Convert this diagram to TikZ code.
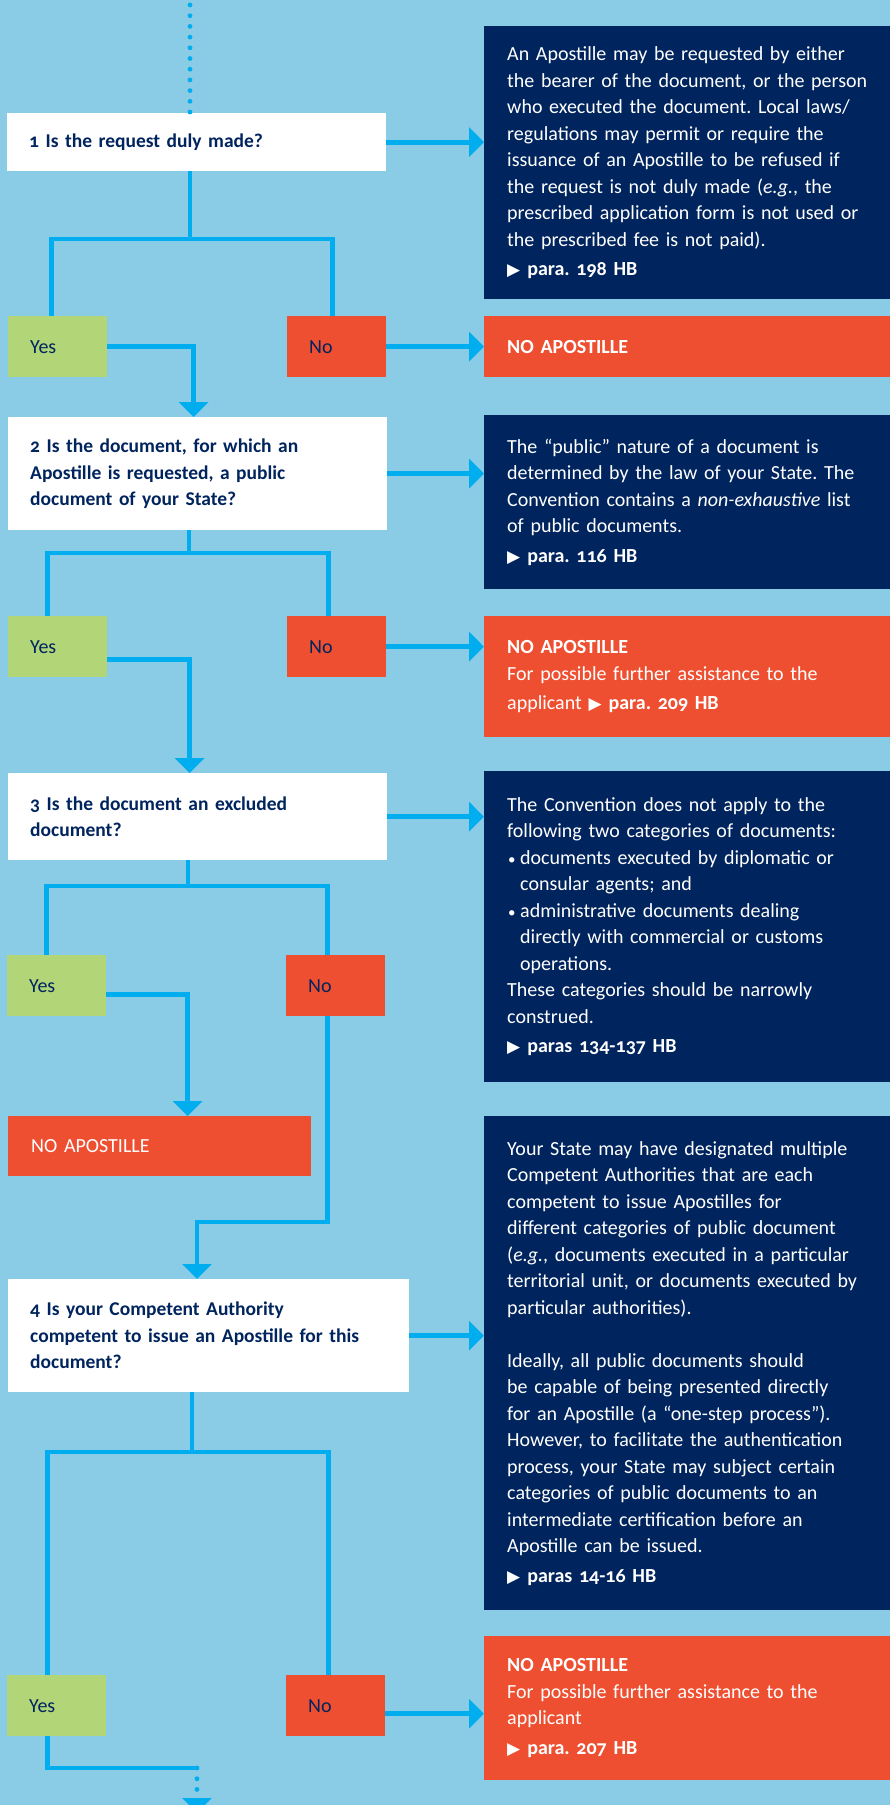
\documentclass[tikz,border=0pt]{standalone}
\usepackage{fontspec}
\setmainfont{Carlito}[Numbers=OldStyle]
\newfontfamily\symfont{DejaVu Sans}
\usetikzlibrary{arrows.meta}
\definecolor{skyback}{HTML}{8ACBE5}
\definecolor{flowcyan}{HTML}{00AEEF}
\definecolor{navyblue}{HTML}{00245D}
\definecolor{stopred}{HTML}{EF4F31}
\definecolor{yesgreen}{HTML}{B1D577}
\newcommand\paramark{{\symfont\fontsize{17pt}{17pt}\selectfont\char"25B6}\hspace{7pt}}
\newcommand\listdot{\makebox[13pt][l]{\hspace{1pt}\fontsize{15pt}{15pt}\selectfont•}}
\frenchspacing
\begin{document}
\begin{tikzpicture}[x=1pt,y=-1pt,line cap=butt,line join=miter,
	txt/.style={anchor=north west,inner xsep=22pt,inner ysep=0pt,align=left,font=\fontsize{20pt}{26.5pt}\selectfont},
	questionbox/.style={txt,fill=white,text=navyblue,font=\fontsize{19.5pt}{26.5pt}\selectfont\bfseries},
	yesbox/.style={txt,fill=yesgreen,text=navyblue,text width=55pt,minimum height=61pt},
	nobox/.style={txt,fill=stopred,text=navyblue,text width=55pt,minimum height=61pt},
	infobox/.style={txt,fill=navyblue,text=white,inner xsep=23pt,text width=400pt},
	stopbox/.style={txt,fill=stopred,text=white,inner xsep=23pt,text width=400pt},
	flow/.style={draw=flowcyan,line width=4.8pt},
	flowarrow/.style={flow,-{Triangle[length=15pt,width=29pt]}},
	dotline/.style={draw=flowcyan,line width=4.8pt,line cap=round,dash pattern=on 0pt off 10.7pt}]
	\useasboundingbox (0,0) rectangle (890,1805);
	\clip (0,0) rectangle (890,1805);
	\fill[skyback] (0,0) rectangle (890,1805);
	% questions
	\node[questionbox,text width=335pt,minimum height=58pt] (q1) at (7,113) {1 Is the request duly made?};
	\node[questionbox,text width=335pt,minimum height=113pt] (q2) at (8,417) {2 Is the document, for which an\\Apostille is requested, a public\\document of your State?};
	\node[questionbox,text width=335pt,minimum height=87pt] (q3) at (8,773) {3 Is the document an excluded\\document?};
	\node[questionbox,text width=357pt,minimum height=113pt] (q4) at (8,1279) {4 Is your Competent Authority\\competent to issue an Apostille for this\\document?};
	% answers
	\node[yesbox] (y1) at (8,316) {Yes};
	\node[nobox] (n1) at (287,316) {No};
	\node[yesbox] (y2) at (8,616) {Yes};
	\node[nobox] (n2) at (287,616) {No};
	\node[yesbox] (y3) at (7,955) {Yes};
	\node[nobox] (n3) at (286,955) {No};
	\node[yesbox] (y4) at (7,1675) {Yes};
	\node[nobox] (n4) at (286,1675) {No};
	% notes (they run on to the right edge of the page)
	\node[infobox,minimum height=273pt] (i1) at (484,26) {An Apostille may be requested by either\\the bearer of the document, or the person\\who executed the document. Local laws/\\regulations may permit or require the\\issuance of an Apostille to be refused if\\the request is not duly made (\textit{e.g.}, the\\prescribed application form is not used or\\the prescribed fee is not paid).\\[3pt]\paramark\textbf{para. 198 HB}};
	\node[infobox,minimum height=174pt] (i2) at (484,415) {The “public” nature of a document is\\determined by the law of your State. The\\Convention contains a \textit{non-exhaustive} list\\of public documents.\\[3pt]\paramark\textbf{para. 116 HB}};
	\node[infobox,minimum height=311pt] (i3) at (484,771) {The Convention does not apply to the\\following two categories of documents:\\\listdot documents executed by diplomatic or\\\hspace*{13pt}consular agents; and\\\listdot administrative documents dealing\\\hspace*{13pt}directly with commercial or customs\\\hspace*{13pt}operations.\\These categories should be narrowly\\construed.\\[3pt]\paramark\textbf{paras 134-137 HB}};
	\node[infobox,minimum height=494pt] (i4) at (484,1116) {Your State may have designated multiple\\Competent Authorities that are each\\competent to issue Apostilles for\\different categories of public document\\(\textit{e.g.}, documents executed in a particular\\territorial unit, or documents executed by\\particular authorities).\\[26.5pt]Ideally, all public documents should\\be capable of being presented directly\\for an Apostille (a “one-step process”).\\However, to facilitate the authentication\\process, your State may subject certain\\categories of public documents to an\\intermediate certification before an\\Apostille can be issued.\\[3pt]\paramark\textbf{paras 14-16 HB}};
	% no apostille
	\node[stopbox,minimum height=61pt] (s1) at (484,316) {\textbf{NO APOSTILLE}};
	\node[stopbox,minimum height=121pt] (s2) at (484,616) {\textbf{NO APOSTILLE}\\For possible further assistance to the\\[3pt]applicant \paramark\textbf{para. 209 HB}};
	\node[stopbox,text width=257pt,minimum height=60pt] (s3) at (8,1116) {NO APOSTILLE};
	\node[stopbox,minimum height=144pt] (s4) at (484,1636) {\textbf{NO APOSTILLE}\\For possible further assistance to the\\applicant\\[3pt]\paramark\textbf{para. 207 HB}};
	% connectors
	\coordinate (top) at (190,5);
	\draw[dotline] (top) -- (top |- q1.north);
	\coordinate (f1) at (190,239);
	\draw[flow] (f1 |- q1.south) -- (f1);
	\draw[flow] ([xshift=-6pt]y1.north) |- (f1) -| ([xshift=-4pt]n1.north);
	\draw[flowarrow] (q1.east) -- (q1.east -| i1.west);
	\draw[flowarrow] (n1.east) -- (n1.east -| s1.west);
	\draw[flowarrow] (y1.east) -| ([xshift=-4pt]q2.north);
	\coordinate (f2) at (189,553);
	\draw[flow] (f2 |- q2.south) -- (f2);
	\draw[flow] ([xshift=-10pt]y2.north) |- (f2) -| ([xshift=-8pt]n2.north);
	\draw[flowarrow] (q2.east) -- (q2.east -| i2.west);
	\draw[flowarrow] (n2.east) -- (n2.east -| s2.west);
	\draw[flowarrow] ([yshift=-13pt]y2.east) -| ([xshift=-8pt]q3.north);
	\coordinate (f3) at (188,886);
	\draw[flow] (f3 |- q3.south) -- (f3);
	\draw[flow] ([xshift=-10pt]y3.north) |- (f3) -| ([xshift=-8pt]n3.north);
	\draw[flowarrow] (q3.east) -- (q3.east -| i3.west);
	\draw[flowarrow] ([yshift=-9pt]y3.east) -| ([xshift=28pt]s3.north);
	\coordinate (b3) at (197,1222);
	\draw[flowarrow] ([xshift=-8pt]n3.south) |- (b3) -- (b3 |- q4.north);
	\coordinate (f4) at (192,1452);
	\draw[flow] (f4 |- q4.south) -- (f4);
	\draw[flow] ([xshift=-9pt]y4.north) |- (f4) -| ([xshift=-7pt]n4.north);
	\draw[flowarrow] (q4.east) -- (q4.east -| i4.west);
	\draw[flowarrow] ([yshift=-8pt]n4.east) -- ([yshift=-8pt]n4.east -| s4.west);
	\coordinate (b4) at (197,1768);
	\coordinate (exit) at (197,1813);
	\draw[flow] ([xshift=-9pt]y4.south) |- (b4);
	\draw[dotline,-{Triangle[length=15pt,width=29pt]}] (b4) -- (exit);
\end{tikzpicture}
\end{document}
